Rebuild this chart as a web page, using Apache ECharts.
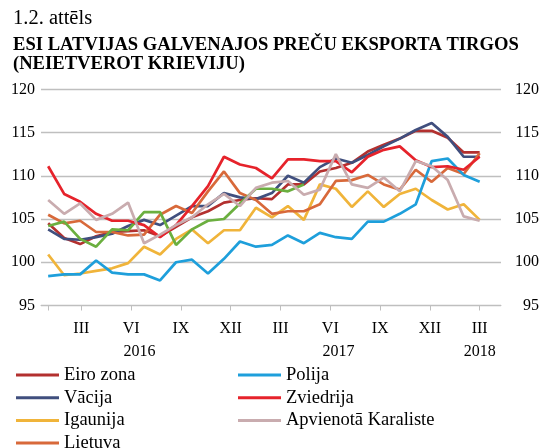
<!DOCTYPE html>
<html>
<head>
<meta charset="utf-8">
<script src="https://cdn.jsdelivr.net/npm/echarts@6/dist/echarts.min.js"></script>
<style>html,body{margin:0;padding:0;background:#fff}#c{width:542px;height:448px}</style>
</head>
<body>
<div id="c"></div>
<script>
const figLabel = '1.2. attēls';
const chartTitle = 'ESI LATVIJAS GALVENAJOS PREČU EKSPORTA TIRGOS\n(NEIETVEROT KRIEVIJU)';

// month axis: Jan 2016 .. Mar 2018
const monthNames = ['I','II','III','IV','V','VI','VII','VIII','IX','X','XI','XII'];
const tickMonths = [0, 2, 5, 8, 11, 14, 17, 20, 23, 26];
const labelMonths = [2, 5, 8, 11, 14, 17, 20, 23, 26];
const yearLabels = ['2016', '2017', '2018'];
const yearLabelPos = [5.5, 17.5, 26];

const yTicks = [95, 100, 105, 110, 115, 120];

const names = ['Eiro zona','Vācija','Igaunija','Lietuva','Somija','Polija','Zviedrija','Apvienotā Karaliste'];
const eiroZona = [104.5,102.8,102.1,103.0,103.5,103.6,103.7,103.0,104.1,105.2,105.9,106.9,107.2,107.4,107.3,109.0,109.0,110.5,110.9,111.5,112.8,113.6,114.3,115.2,115.2,114.4,112.7,112.7];
const vacija = [103.8,102.7,102.6,102.9,103.3,104.2,104.9,104.3,105.4,106.5,106.5,108.0,107.5,107.3,108.0,110.0,109.2,111.0,112.0,111.5,112.4,113.4,114.3,115.3,116.1,114.5,112.2,112.2];
const igaunija = [100.9,98.5,98.7,99.0,99.3,99.9,101.8,100.9,102.7,103.8,102.2,103.7,103.7,106.3,105.2,106.5,104.9,109.0,108.5,106.4,108.2,106.4,107.9,108.5,107.2,106.1,106.7,104.9];
const lietuva = [105.5,104.5,104.8,103.5,103.5,103.1,103.2,105.5,106.5,105.7,108.2,110.5,108.0,107.2,105.6,105.9,105.9,106.7,109.4,109.5,110.1,109.0,108.4,110.7,109.3,110.9,110.2,112.6];
const zalais = [104.2,104.7,102.7,101.8,103.8,103.7,105.8,105.8,102.0,103.8,104.8,105.0,106.8,108.5,108.5,108.2,109.0,null,null,null,null,null,null,null,null,null,null,null];
const polija = [98.4,98.6,98.6,100.2,98.8,98.6,98.6,97.9,100.0,100.3,98.7,100.4,102.4,101.8,102.0,103.1,102.2,103.4,102.9,102.7,104.7,104.7,105.6,106.7,111.7,112.0,110.1,109.3];
const zviedrija = [111.1,107.9,107.0,105.6,104.8,104.8,104.3,102.9,104.3,106.5,108.8,112.2,111.3,110.9,109.7,111.9,111.9,111.7,111.7,110.4,112.2,113.0,113.4,111.8,111.0,111.1,110.7,112.2];
const apvKaraliste = [107.2,105.6,106.8,104.9,105.6,106.9,102.2,103.2,104.3,105.2,106.7,107.9,106.5,108.6,109.2,109.4,107.8,108.4,112.5,109.0,108.6,109.8,108.2,111.7,111.1,109.5,105.3,104.8];

const seriesValues = [eiroZona, vacija, igaunija, lietuva, zalais, polija, zviedrija, apvKaraliste];
const colors = ['#B3302F','#404F7E','#F0B43A','#D8693A','#6BAF3F','#1E9FDB','#E6232B','#C9ACAF'];

// legend layout: column-wise, the green series' entry is cut off in the source
const legendColumns = [[0, 1, 2, 3], [5, 6, 7]];

const FONT = 'Liberation Serif';
const chart = echarts.init(document.getElementById('c'), null, {renderer:'canvas'});

const dataAxisMin = -0.449, dataAxisMax = 28.335;
const monthAxisMin = -0.432, monthAxisMax = 27.286;

const series = seriesValues.map((vals, k) => ({
  name: names[k],
  type: 'line',
  xAxisIndex: 0,
  yAxisIndex: 0,
  data: vals.map((v, i) => [i, v]),
  symbol: 'none',
  connectNulls: false,
  lineStyle: {width: 2.7, color: colors[k]},
  itemStyle: {color: colors[k]},
  z: 2 + k
}));

const legendText = {fontFamily: FONT, fontSize: 18.5, color: '#000', lineHeight: 22};
const colLeft = [16, 238];
const legends = [];
legendColumns.forEach((col, c) => col.forEach((k, r) => {
  legends.push({
    data: [names[k]], orient: 'horizontal', left: colLeft[c], top: 364 + r * 22.7,
    icon: 'rect', itemWidth: 43, itemHeight: 3, itemGap: 0, padding: 0,
    textStyle: legendText
  });
}));

chart.setOption({
  animation: false,
  title: [
    {text: figLabel, left: 13, top: 8, padding: 0,
     textStyle: {fontFamily: FONT, fontSize: 20.5, fontWeight: 'normal', color: '#000'}},
    {text: chartTitle, left: 13, top: 35, padding: 0,
     textStyle: {fontFamily: FONT, fontSize: 18.6, fontWeight: 'bold', color: '#000', lineHeight: 19.5}}
  ],
  legend: legends,
  grid: {left: 41, right: 33, top: 89.3, bottom: 142.5, containLabel: false},
  xAxis: [
    {type: 'value', min: dataAxisMin, max: dataAxisMax, show: false, position: 'bottom'},
    {type: 'value', min: monthAxisMin, max: monthAxisMax, position: 'bottom',
     axisLine: {show: true, lineStyle: {color: '#BFBFBF', width: 1}},
     axisTick: {show: true, customValues: tickMonths, length: 5, lineStyle: {color: '#BFBFBF'}},
     axisLabel: {show: true, customValues: labelMonths, margin: 15,
       formatter: v => monthNames[Math.round(v) % 12],
       fontFamily: FONT, fontSize: 16, color: '#000'},
     splitLine: {show: false}},
    {type: 'value', min: monthAxisMin, max: monthAxisMax, position: 'bottom',
     axisLine: {show: false}, axisTick: {show: false},
     axisLabel: {show: true, customValues: yearLabelPos, margin: 38,
       formatter: v => yearLabels[yearLabelPos.indexOf(v)],
       fontFamily: FONT, fontSize: 16, color: '#000'},
     splitLine: {show: false}}
  ],
  yAxis: [
    {type: 'value', min: yTicks[0], max: yTicks[yTicks.length-1], interval: 5, position: 'left',
     axisLine: {show: false}, axisTick: {show: false},
     axisLabel: {margin: 6, fontFamily: FONT, fontSize: 16, color: '#000'},
     splitLine: {show: true, lineStyle: {color: '#BFBFBF', width: 1.3}}},
    {type: 'value', min: yTicks[0], max: yTicks[yTicks.length-1], interval: 5, position: 'right',
     axisLine: {show: false}, axisTick: {show: false},
     axisLabel: {margin: 38, align: 'right', fontFamily: FONT, fontSize: 16, color: '#000'},
     splitLine: {show: false}}
  ],
  series: series
});
</script>
</body>
</html>
